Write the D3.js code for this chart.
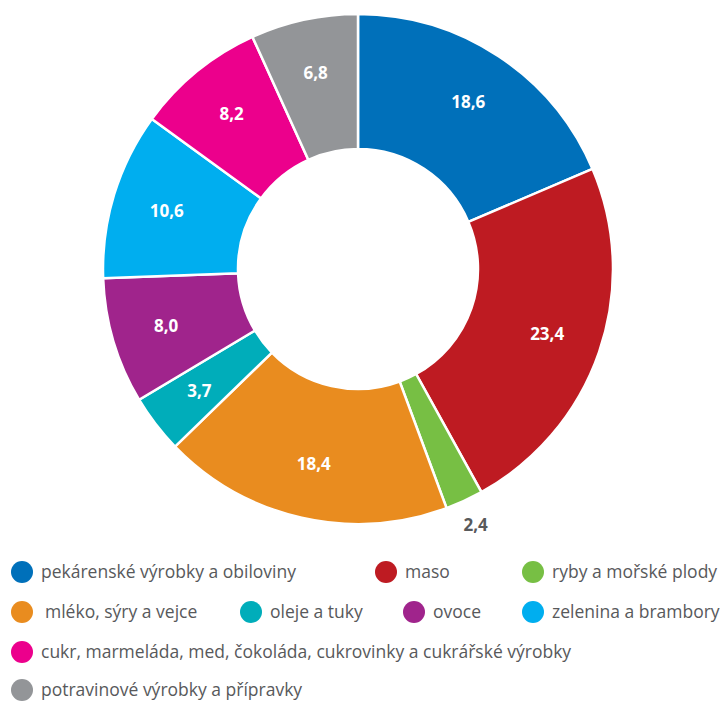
<!DOCTYPE html>
<html>
	<head>
		<script src="https://d3js.org/d3.v7.min.js"></script>
	</head>
	<body style="margin:0">
		<svg id="chart" width="725" height="704"></svg>
	</body>
	<script>
	// Data
	var categories = ["pekárenské výrobky a obiloviny", "maso", "ryby a mořské plody",
		"mléko, sýry a vejce", "oleje a tuky", "ovoce", "zelenina a brambory",
		"cukr, marmeláda, med, čokoláda, cukrovinky a cukrářské výrobky",
		"potravinové výrobky a přípravky"]
	var values = [18.6, 23.4, 2.4, 18.4, 3.7, 8.0, 10.6, 8.2, 6.8]
	var colors = ["#0070ba", "#be1b22", "#77bf44", "#e98c1f", "#00adba", "#a0248c", "#00aeef", "#ec008c", "#939598"]

	var svg = d3.select("#chart")
	var cx = 358, cy = 269, outerR = 255, innerR = 120

	var color = d3.scaleOrdinal().domain(categories).range(colors)
	var fmt = function(v){ return d3.format(".1f")(v).replace(".", ",") }

	var pie = d3.pie().sort(null).value(function(d){ return d.value })
	var data = categories.map(function(c, i){ return {name: c, value: values[i]} })
	var arcs = pie(data)

	var arc = d3.arc().innerRadius(innerR).outerRadius(outerR)
	var labelArc = d3.arc().innerRadius(200).outerRadius(200)
	var outArc = d3.arc().innerRadius(282).outerRadius(282)

	var g = svg.append("g").attr("transform", "translate(" + cx + "," + cy + ")")

	g.selectAll("path")
		.data(arcs)
		.enter().append("path")
			.attr("d", arc)
			.attr("fill", function(d){ return color(d.data.name) })
			.style("stroke", "#fff")
			.style("stroke-width", 2.5)

	// labels: small slices go outside
	g.selectAll("text")
		.data(arcs)
		.enter().append("text")
			.attr("transform", function(d){
				var p = d.data.value < 3 ? outArc.centroid(d) : labelArc.centroid(d)
				return "translate(" + p + ")"
			})
			.attr("text-anchor", "middle")
			.attr("dy", "0.35em")
			.style("font-family", "'Open Sans', sans-serif")
			.style("font-weight", "bold")
			.style("font-size", "17px")
			.style("fill", function(d){ return d.data.value < 3 ? "#58595b" : "#fff" })
			.text(function(d){ return fmt(d.data.value) })

	// Legend layout (row, x of marker)
	var legendPos = [[0, 22], [0, 386], [0, 533], [1, 22], [1, 251], [1, 414], [1, 533], [2, 22], [3, 22]]
	var rowY = [572, 612, 652, 690]

	var legend = svg.selectAll(".legend")
		.data(categories)
		.enter().append("g")
			.attr("class", "legend")
			.attr("transform", function(d, i){ return "translate(" + legendPos[i][1] + "," + rowY[legendPos[i][0]] + ")" })

	legend.append("circle")
		.attr("r", 11)
		.attr("fill", function(d){ return color(d) })

	legend.append("text")
		.attr("x", function(d, i){ return i == 3 ? 23 : 19 })
		.attr("dy", "0.35em")
		.style("font-family", "'Open Sans', sans-serif")
		.style("font-size", "17.5px")
		.style("fill", "#58595b")
		.text(function(d){ return d })
	</script>
</html>
